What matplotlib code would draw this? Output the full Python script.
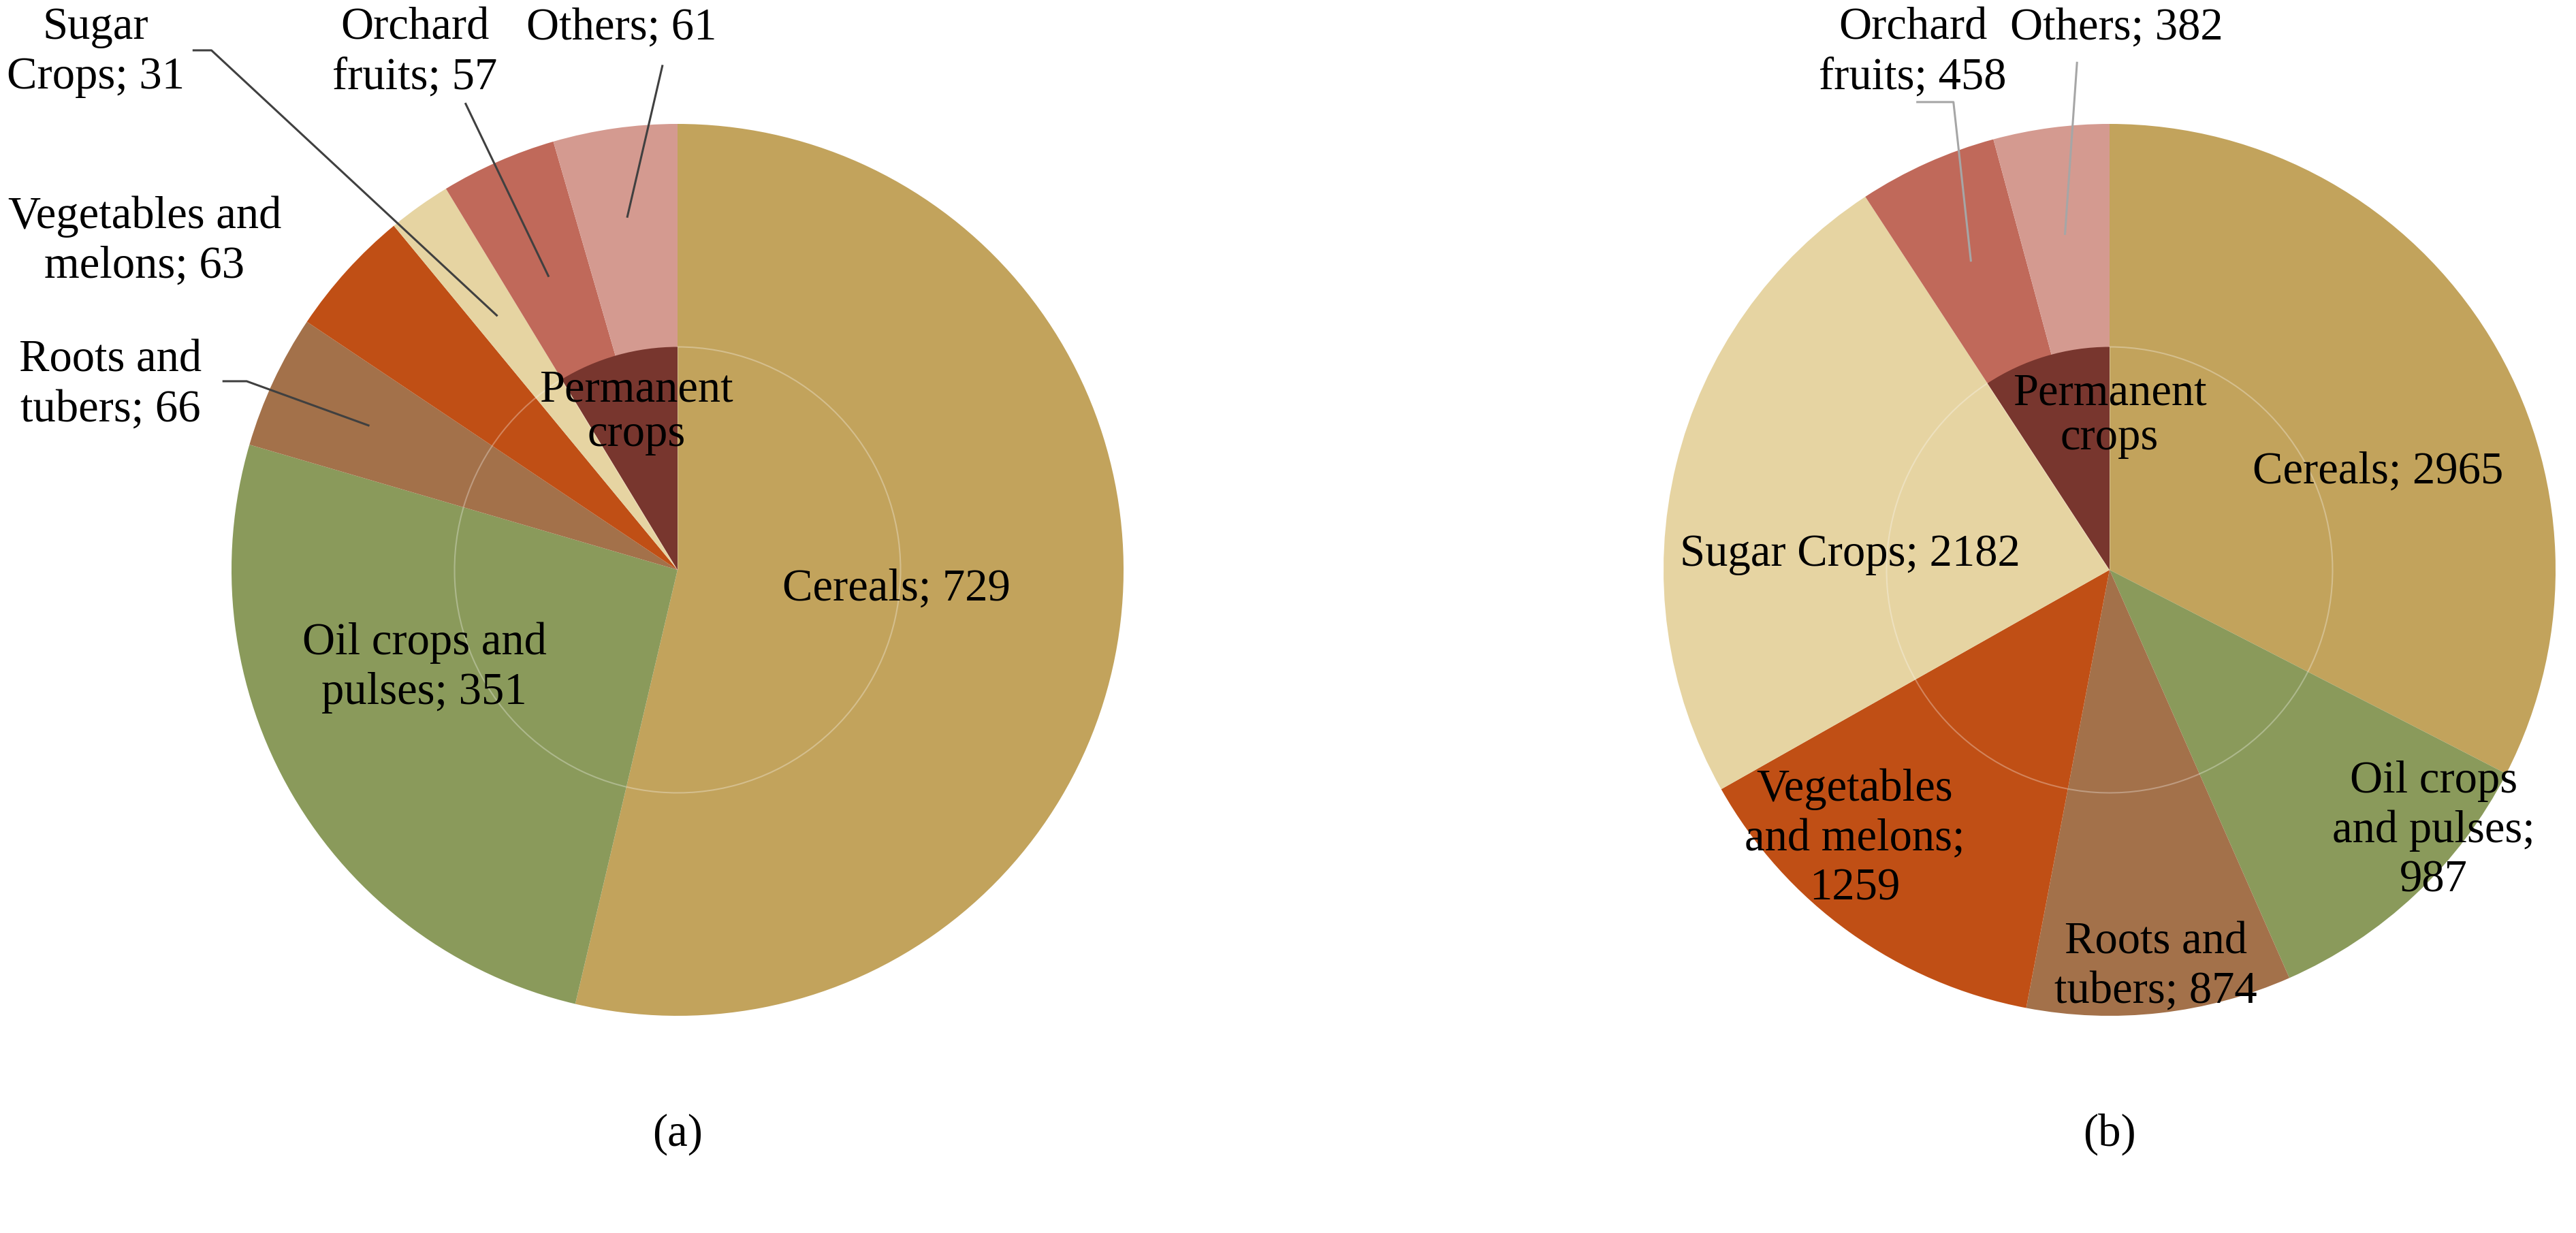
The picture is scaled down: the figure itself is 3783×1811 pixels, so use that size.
import numpy as np
import matplotlib.pyplot as plt

plt.rcParams['font.family'] = ['Liberation Serif', 'DejaVu Serif']

# data
crops = ['Cereals', 'Oil crops and pulses', 'Roots and tubers', 'Vegetables and melons',
         'Sugar Crops', 'Orchard fruits', 'Others']
area_a = [729, 351, 66, 63, 31, 57, 61]
area_b = [2965, 987, 874, 1259, 2182, 458, 382]
permanent = ['Orchard fruits', 'Others']

colors = ['#C2A35C', '#8A9A5B', '#A3714A', '#C04F15', '#E6D4A2', '#C0695A', '#D49A90']
perm_color = '#78362E'

# label texts and where they sit (axes data units, pie radius = 1)
labels_a = ['Cereals; 729', 'Oil crops and\npulses; 351', 'Roots and\ntubers; 66',
            'Vegetables and\nmelons; 63', 'Sugar\nCrops; 31', 'Orchard\nfruits; 57', 'Others; 61']
pos_a = [(0.49, -0.043), (-0.568, -0.22), (-1.272, 0.415), (-1.195, 0.736),
         (-1.305, 1.160), (-0.589, 1.160), (-0.125, 1.215)]
labels_b = ['Cereals; 2965', 'Oil crops\nand pulses;\n987', 'Roots and\ntubers; 874',
            'Vegetables\nand melons;\n1259', 'Sugar Crops; 2182', 'Orchard\nfruits; 458', 'Others; 382']
pos_b = [(0.602, 0.22), (0.727, -0.585), (0.104, -0.89), (-0.571, -0.603),
         (-0.582, 0.035), (-0.441, 1.160), (0.015, 1.215)]

# leader lines: crop -> (start points near the text, radius of the end point in the slice)
leaders_a = {'Sugar Crops': ([(-1.085, 1.165), (-1.045, 1.165)], 0.70),
             'Orchard fruits': ([(-0.475, 1.045)], 0.72),
             'Others': ([(-0.034, 1.130)], 0.80),
             'Roots and tubers': ([(-1.018, 0.423), (-0.966, 0.423)], 0.765)}
leaders_b = {'Orchard fruits': ([(-0.431, 1.049), (-0.350, 1.049)], 0.76),
             'Others': ([(-0.073, 1.137)], 0.76)}

FS = 48
LS = 1.25
W, H = 3783, 1811
R = 655
CY = 837


def draw(ax, values, labels, pos, leaders, line_color):
    wedges, _ = ax.pie(values, colors=colors, startangle=90, counterclock=False,
                       radius=1, wedgeprops=dict(linewidth=0))
    perm = sum(v for c, v in zip(crops, values) if c in permanent)
    inner, _ = ax.pie([sum(values) - perm, perm], colors=['none', perm_color],
                      startangle=90, counterclock=False, radius=0.5,
                      wedgeprops=dict(linewidth=0))
    inner[0].set_edgecolor((1, 1, 1, 0.3))
    inner[0].set_linewidth(1.5)

    for txt, (x, y) in zip(labels, pos):
        ax.text(x, y, txt, ha='center', va='center', fontsize=FS, linespacing=LS)
    ax.text(0, 0.345, 'Permanent\ncrops', ha='center', va='center', fontsize=FS, linespacing=1.1)

    for crop, (pts, r) in leaders.items():
        w = wedges[crops.index(crop)]
        ang = np.deg2rad((w.theta1 + w.theta2) / 2)
        xs = [p[0] for p in pts] + [r * np.cos(ang)]
        ys = [p[1] for p in pts] + [r * np.sin(ang)]
        ax.plot(xs, ys, color=line_color, lw=2.2, clip_on=False)

    ax.set_xlim(-1, 1)
    ax.set_ylim(-1, 1)
    ax.set_aspect('equal')
    ax.axis('off')


fig = plt.figure(figsize=(W / 100, H / 100), dpi=100)
ax1 = fig.add_axes([(995 - R) / W, (H - CY - R) / H, 2 * R / W, 2 * R / H])
ax2 = fig.add_axes([(3098 - R) / W, (H - CY - R) / H, 2 * R / W, 2 * R / H])

draw(ax1, area_a, labels_a, pos_a, leaders_a, '#404040')
draw(ax2, area_b, labels_b, pos_b, leaders_b, '#A6A6A6')
# the "Permanent crops" text of (a) sits slightly left
ax1.texts[-1].set_position((-0.092, 0.353))

fig.text(995 / W, 1 - 1666 / H, '(a)', ha='center', va='center', fontsize=FS)
fig.text(3098 / W, 1 - 1666 / H, '(b)', ha='center', va='center', fontsize=FS)

plt.savefig('out.png', dpi=100)
